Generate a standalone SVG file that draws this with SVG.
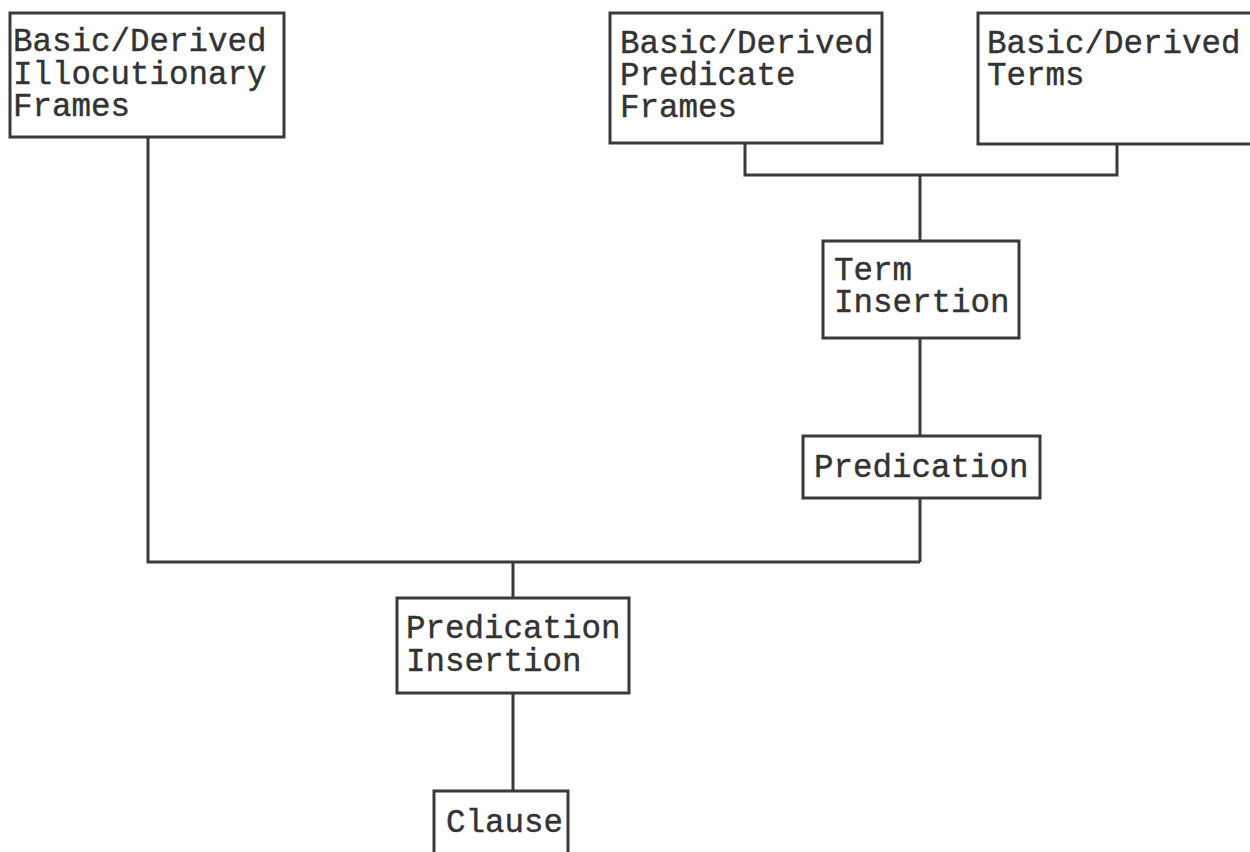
<svg xmlns="http://www.w3.org/2000/svg" width="1250" height="852" viewBox="0 0 1250 852">
<style>
.box{fill:#fff;stroke:#3a3a3a;stroke-width:3}
.ln{fill:none;stroke:#3a3a3a;stroke-width:3}
text{font-family:"Liberation Mono","DejaVu Sans Mono",monospace;font-size:32.5px;fill:#333;stroke:#333;stroke-width:0.4}
</style>
<rect width="1250" height="852" fill="#fff"/>
<g id="connectors">
<polyline class="ln" points="148,137 148,562 920,562"/>
<polyline class="ln" points="920,498 920,562"/>
<polyline class="ln" points="513,562 513,598"/>
<polyline class="ln" points="513,693 513,791"/>
<polyline class="ln" points="745,143 745,175 1117,175 1117,144"/>
<polyline class="ln" points="920,175 920,241"/>
<polyline class="ln" points="920,338 920,436"/>
</g>
<g id="illocutionary">
<rect class="box" x="10" y="13" width="274" height="124"/>
<text x="13" y="51">Basic/Derived</text>
<text x="13" y="84">Illocutionary</text>
<text x="13" y="116">Frames</text>
</g>
<g id="predicate">
<rect class="box" x="610" y="13" width="272" height="130"/>
<text x="620" y="53">Basic/Derived</text>
<text x="620" y="85">Predicate</text>
<text x="620" y="117">Frames</text>
</g>
<g id="terms">
<rect class="box" x="978" y="13" width="290" height="131"/>
<text x="987" y="53">Basic/Derived</text>
<text x="987" y="85">Terms</text>
</g>
<g id="term-insertion">
<rect class="box" x="823" y="241" width="196" height="97"/>
<text x="834" y="280">Term</text>
<text x="834" y="312">Insertion</text>
</g>
<g id="predication">
<rect class="box" x="803" y="436" width="237" height="62"/>
<text x="814" y="477">Predication</text>
</g>
<g id="predication-insertion">
<rect class="box" x="397" y="598" width="232" height="95"/>
<text x="406" y="638">Predication</text>
<text x="406" y="671">Insertion</text>
</g>
<g id="clause">
<rect class="box" x="434" y="791" width="134" height="80"/>
<text x="446" y="832">Clause</text>
</g>
</svg>
